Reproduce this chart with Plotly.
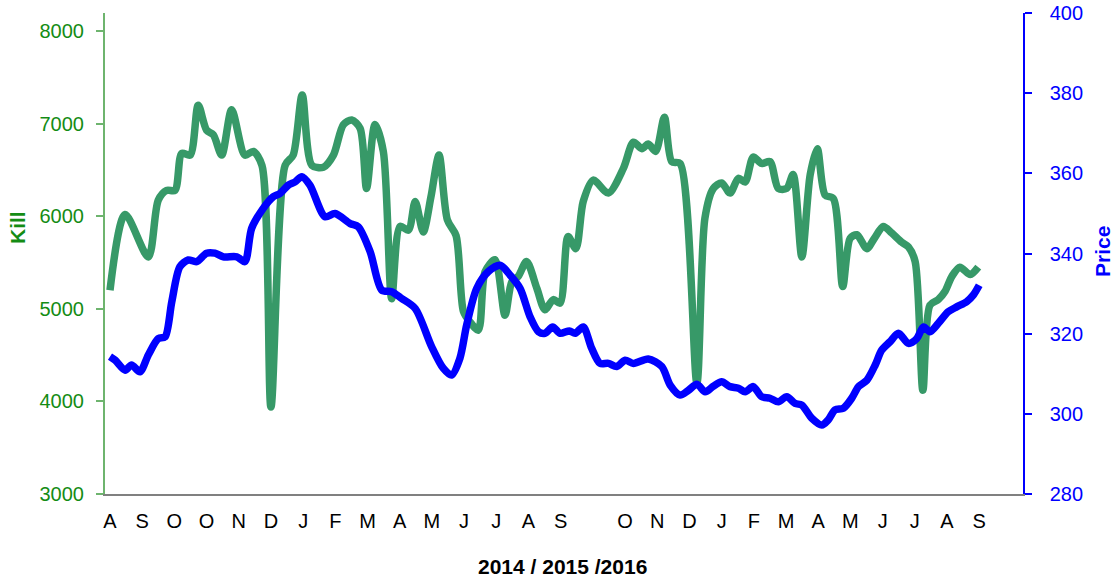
import plotly.graph_objects as go

# Month labels (one slot per month; slot 15 is blank in the original)
month_labels = ["A", "S", "O", "O", "N", "D", "J", "F", "M", "A", "M", "J", "J", "A", "S", "",
                "O", "N", "D", "J", "F", "M", "A", "M", "J", "J", "A", "S"]

# Kill series (x in month slots, values in head)
kill_x = [0.0, 0.47, 1.19, 1.50, 1.76, 2.02, 2.23, 2.49, 2.74, 3.00, 3.21, 3.47, 3.78, 4.19, 4.45,
          4.72, 5.00, 5.44, 5.69, 5.97, 6.27, 6.63, 6.94, 7.25, 7.51, 7.77, 7.97, 8.23, 8.49, 8.75,
          9.01, 9.27, 9.48, 9.73, 9.97, 10.22, 10.48, 10.75, 10.98, 11.18, 11.44, 11.65, 11.96,
          12.27, 12.48, 12.68, 12.94, 13.26, 13.51, 13.77, 13.98, 14.23, 14.47, 14.70, 15.01,
          15.48, 15.95, 16.26, 16.52, 16.72, 16.95, 17.22, 17.45, 17.71, 18.23, 18.48, 18.74,
          19.00, 19.26, 19.52, 19.73, 19.98, 20.24, 20.50, 20.76, 21.02, 21.22, 21.49, 21.75,
          21.97, 22.21, 22.47, 22.76, 22.99, 23.20, 23.51, 23.74, 24.02, 24.28, 24.59, 24.80,
          25.01, 25.25, 25.47, 25.73, 25.94, 26.15, 26.40, 26.72, 26.97]
kill = [5200, 6020, 5560, 6175, 6280, 6280, 6680, 6660, 7200, 6930, 6880, 6660, 7150, 6660, 6700,
        6550, 3940, 6550, 6660, 7310, 6550, 6530, 6660, 6990, 7040, 6950, 6300, 6990, 6700, 5110,
        5890, 5850, 6160, 5830, 6210, 6660, 5960, 5790, 4970, 4860, 4770, 5400, 5530,
        4930, 5290, 5350, 5510, 5220, 4990, 5100, 5060, 5780, 5650, 6160, 6390,
        6250, 6520, 6800, 6730, 6780, 6700, 7070, 6590, 6570, 4200, 5980, 6300,
        6360, 6250, 6410, 6370, 6640, 6570, 6590, 6300, 6300, 6450, 5560, 6450,
        6730, 6230, 6190, 5240, 5760, 5800, 5650, 5760, 5890, 5820, 5720, 5670,
        5510, 4120, 5040, 5100, 5190, 5350, 5450, 5370, 5450]

# Price series
price_x = [0.0, 0.16, 0.47, 0.67, 0.93, 1.19, 1.50, 1.71, 1.92, 2.17, 2.43, 2.69, 3.00, 3.26, 3.52,
           3.94, 4.19, 4.40, 4.76, 5.07, 5.28, 5.54, 5.75, 5.96, 6.21, 6.68, 6.99, 7.46, 7.71,
           8.08, 8.44, 8.75, 9.06, 9.48, 9.99, 10.35, 10.61, 10.87, 11.08, 11.39, 11.75, 12.12,
           12.43, 12.74, 13.05, 13.31, 13.51, 13.75, 13.98, 14.27, 14.45, 14.70, 14.96, 15.22,
           15.48, 15.74, 16.00, 16.26, 16.72, 17.14, 17.40, 17.71, 17.97, 18.23, 18.49, 18.74,
           19.00, 19.26, 19.52, 19.73, 19.98, 20.24, 20.50, 20.76, 21.02, 21.28, 21.49, 21.80,
           22.11, 22.31, 22.52, 22.78, 23.04, 23.25, 23.51, 23.77, 23.97, 24.23, 24.49, 24.80,
           25.06, 25.27, 25.47, 25.73, 26.04, 26.30, 26.61, 26.82, 27.00]
price = [314.3, 313.4, 310.9, 312.2, 310.5, 314.7, 318.8, 319.2, 328.0, 336.7, 338.4, 338.0, 340.1,
         340.1, 339.2, 339.2, 338.0, 346.3, 351.3, 354.2, 355.0, 357.1, 357.9, 359.2, 357.1, 349.2,
         350.0, 347.5, 346.7, 340.5, 330.9, 330.5, 328.8, 326.3, 316.8, 311.4, 309.7, 313.9, 322.2,
         331.3, 335.5, 337.1, 334.6, 331.3, 324.2, 320.5, 320.1, 321.7, 320.1, 320.7, 320.1, 321.7,
         316.4, 312.6, 312.6, 311.8, 313.4, 312.6, 313.7, 311.8, 307.2, 304.7, 305.9, 307.4, 305.5,
         306.9, 308.0, 306.8, 306.4, 305.5, 306.8, 304.3, 303.9, 303.0, 304.3, 302.6, 302.2, 298.9,
         297.2, 298.5, 301.0, 301.4, 303.9, 306.8, 308.4, 312.2, 315.9, 318.0, 320.1, 317.6, 318.8,
         321.7, 320.5, 322.6, 325.5, 326.7, 328.0, 329.7, 332.1]

kill_ticks = [3000, 4000, 5000, 6000, 7000, 8000]
price_ticks = [280, 300, 320, 340, 360, 380, 400]

FONT = "Liberation Sans, Arial, sans-serif"
GREEN_LINE = "rgb(55,153,104)"
GREEN_TEXT = "rgb(20,140,20)"
BLUE = "rgb(0,0,255)"

W, H = 1115, 580
# plot area edges in page pixels (body margin removed by post_script)
PL, PR, PT, PB = 105, 1023, 13, 494
L = PL
T = PT
R = W - PR
B = H - PB

fig = go.Figure()
fig.add_trace(go.Scatter(x=kill_x, y=kill, mode="lines", name="Kill",
                         line=dict(color=GREEN_LINE, width=7.5, shape="spline", smoothing=0.8),
                         yaxis="y"))
fig.add_trace(go.Scatter(x=price_x, y=price, mode="lines", name="Price",
                         line=dict(color=BLUE, width=7.5, shape="spline", smoothing=0.8),
                         yaxis="y2"))

pw = PR - PL
ph = PB - PT


def px_x(x):
    return (x - PL) / pw


def px_y(y):
    return (PB - y) / ph


fig.update_layout(
    template="none",
    width=W, height=H,
    autosize=False,
    margin=dict(l=L, r=R, t=T, b=B, pad=0, autoexpand=False),
    paper_bgcolor="white", plot_bgcolor="white",
    showlegend=False,
    font=dict(family=FONT, size=20, color="black"),
    xaxis=dict(
        range=[-0.155, 28.36], automargin=False,
        tickmode="array", tickvals=list(range(len(month_labels))), ticktext=month_labels,
        showgrid=False, zeroline=False,
        showline=True, linecolor="rgb(128,128,128)", linewidth=2,
        ticks="", ticklabelstandoff=8,
        tickfont=dict(family=FONT, size=20, color="black"),
    ),
    yaxis=dict(
        range=[3000, 8195], automargin=False,
        tickmode="array", tickvals=kill_ticks,
        showgrid=False, zeroline=False,
        showline=True, linecolor="rgb(110,180,110)", linewidth=2,
        ticks="outside", ticklen=7, tickcolor="rgb(110,180,110)", tickwidth=2,
        ticklabelstandoff=8, ticklabeloverflow="allow",
        tickfont=dict(family=FONT, size=20, color=GREEN_TEXT),
    ),
    yaxis2=dict(
        range=[280, 400.05], automargin=False,
        tickmode="array", tickvals=price_ticks,
        overlaying="y", side="right",
        showgrid=False, zeroline=False,
        showline=True, linecolor=BLUE, linewidth=1.5,
        ticks="outside", ticklen=7, tickcolor=BLUE, tickwidth=1.5,
        ticklabelstandoff=14, ticklabeloverflow="allow",
        tickfont=dict(family=FONT, size=20, color=BLUE),
    ),
    annotations=[
        dict(text="<b>Kill</b>", x=px_x(18), y=px_y(228), xref="paper", yref="paper",
             showarrow=False, textangle=-90, xanchor="center", yanchor="middle",
             font=dict(family=FONT, size=21, color=GREEN_TEXT)),
        dict(text="<b>Price</b>", x=px_x(1102), y=px_y(252), xref="paper", yref="paper",
             showarrow=False, textangle=-90, xanchor="center", yanchor="middle",
             font=dict(family=FONT, size=21, color=BLUE)),
        dict(text="<b>2014 / 2015 /2016</b>", x=px_x(562), y=px_y(566), xref="paper",
             yref="paper", showarrow=False, xanchor="center", yanchor="middle",
             font=dict(family=FONT, size=21, color="black")),
    ],
)

fig.write_html("out.html",
               config={"displayModeBar": False},
               post_script="document.body.style.margin='0';document.body.style.overflow='hidden';")
